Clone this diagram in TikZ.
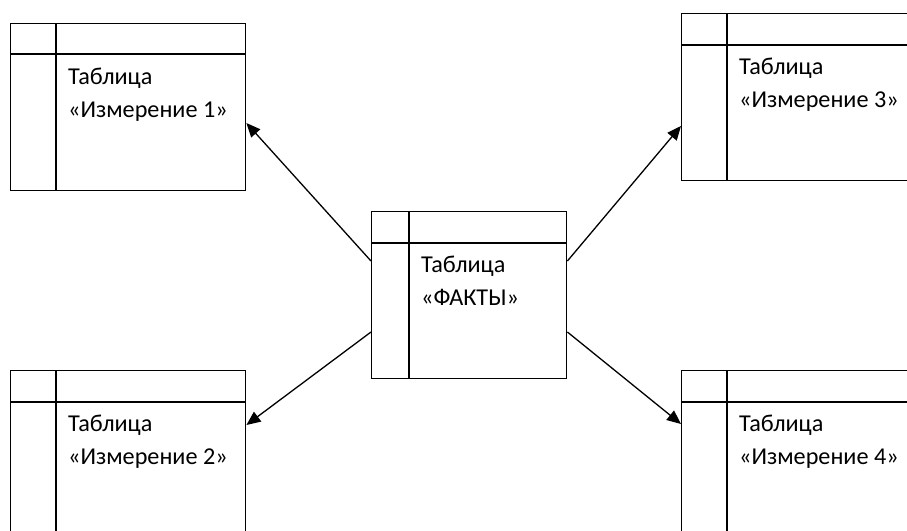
\documentclass[tikz,border=0pt]{standalone}
\usepackage{fontspec}
\setmainfont{Carlito}
\usetikzlibrary{arrows.meta}
\tikzset{
 tbl/.style={draw, line width=1.4pt, minimum height=167pt, inner sep=0pt, anchor=north west},
 sep/.style={line width=1.4pt},
 lbl/.style={anchor=base west, inner sep=0pt, font=\fontsize{24.2}{33}\selectfont},
 arr/.style={line width=1.3pt, -{Triangle[length=14pt,width=12pt]}},
}
% name, x, y, width, column width, header height, line1, line2
\newcommand\dimtable[8]{%
 \node[tbl, minimum width=#4pt] (#1) at (#2,#3) {};
 \draw[sep] ([yshift=-#6pt]#1.north west) -- ([yshift=-#6pt]#1.north east);
 \draw[sep] ([xshift=#5pt]#1.north west) -- ([xshift=#5pt]#1.south west);
 \node[lbl] (#1a) at ([xshift={(#5+12)*1pt},yshift=-61pt]#1.north west) {#7};
 \node[lbl] (#1b) at ([xshift={(#5+12)*1pt},yshift=-94pt]#1.north west) {#8};
}
\begin{document}
\begin{tikzpicture}[x=1pt,y=-1pt]
\useasboundingbox (0,0) rectangle (907,530);
\fill[white] (0,0) rectangle (907,530);
\begin{scope}
\clip (0,0) rectangle (907,530);
\dimtable{d1}{10}{23}{235}{46}{31}{Таблица}{«Измерение 1»}
\dimtable{d2}{10}{370}{235}{46}{32}{Таблица}{«Измерение 2»}
\dimtable{d3}{681}{13}{235}{46}{32}{Таблица}{«Измерение 3»}
\dimtable{d4}{681}{370}{235}{46}{32}{Таблица}{«Измерение 4»}
\dimtable{f}{371}{211}{195}{38}{32}{Таблица}{«ФАКТЫ»}
\draw[arr] ([yshift=-50pt]f.north west) -- ([yshift=-100pt]d1.north east);
\draw[arr] ([yshift=-121pt]f.north west) -- ([yshift=-55pt]d2.north east);
\draw[arr] ([yshift=-50pt]f.north east) -- ([yshift=-113pt]d3.north west);
\draw[arr] ([yshift=-121pt]f.north east) -- ([yshift=-54pt]d4.north west);
\end{scope}
\end{tikzpicture}
\end{document}
